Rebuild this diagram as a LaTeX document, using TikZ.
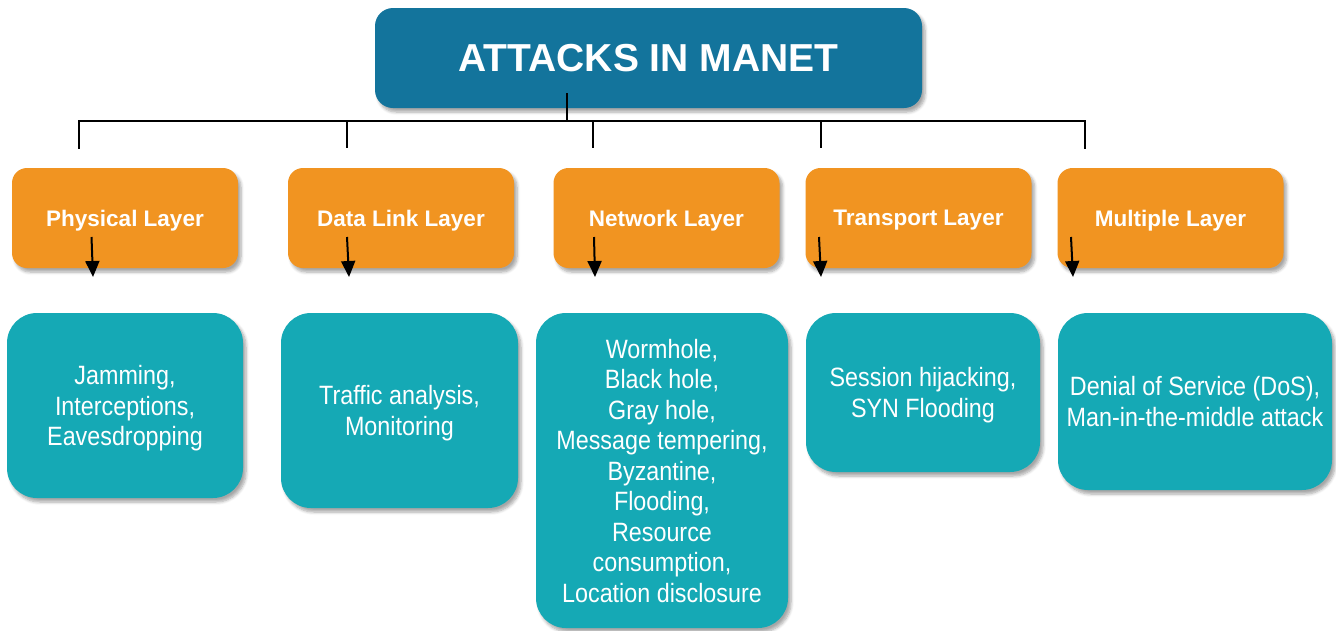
\documentclass[tikz,border=0pt]{standalone}
\usepackage{fontspec}
\setmainfont{Liberation Sans}
\newfontfamily\narrowfont{Liberation Sans}[FakeStretch=0.88]
\usetikzlibrary{arrows.meta,shadows.blur}
\definecolor{titleblue}{RGB}{19,116,156}
\definecolor{layerorange}{RGB}{241,148,33}
\definecolor{attackteal}{RGB}{21,169,181}
\tikzset{
  boxshadow/.style={blur shadow={shadow xshift=3pt,shadow yshift=-4pt,shadow blur steps=6,shadow opacity=35,shadow blur radius=3pt}},
  titlebox/.style={fill=titleblue,rounded corners=18pt,minimum width=547pt,minimum height=100pt,inner sep=0pt,text=white,font=\bfseries\fontsize{39}{44}\selectfont,boxshadow},
  layerbox/.style={fill=layerorange,rounded corners=15pt,minimum width=226pt,minimum height=100pt,inner sep=0pt,text depth=0pt,text=white,font=\bfseries\fontsize{22.5}{26}\selectfont,boxshadow},
  attackbox/.style={fill=attackteal,rounded corners=30pt,inner sep=0pt,text depth=0pt,text=white,align=center,font=\narrowfont\fontsize{26.5}{30.5}\selectfont,boxshadow},
  treeline/.style={line width=2pt,black},
  downarrow/.style={line width=2pt,black,-{Triangle[width=14pt,length=16pt]}}
}
\begin{document}
\begin{tikzpicture}[x=1pt,y=-1pt]
\useasboundingbox (0,0) rectangle (1336,630);
\node[titlebox] (title) at (648.5,58) {ATTACKS IN MANET};

\node[layerbox] (l1) at (125,218) {Physical Layer};
\node[layerbox] (l2) at (401,218) {Data Link Layer};
\node[layerbox] (l3) at (666.5,218) {Network Layer};
\node[layerbox] (l4) at (918.5,218) {Transport Layer};
\node[layerbox] (l5) at (1170.5,218) {Multiple Layer};

\node[attackbox,minimum width=236pt,minimum height=185pt] (t1) at (125,405.5) {Jamming,\\Interceptions,\\Eavesdropping};
\node[attackbox,minimum width=237pt,minimum height=195pt] (t2) at (399.5,410.5) {Traffic analysis,\\Monitoring};
\node[attackbox,minimum width=252pt,minimum height=315pt] (t3) at (662,470.5) {Wormhole,\\Black hole,\\Gray hole,\\Message tempering,\\Byzantine,\\Flooding,\\Resource\\consumption,\\Location disclosure};
\node[attackbox,minimum width=234pt,minimum height=159pt] (t4) at (923,392.5) {Session hijacking,\\SYN Flooding};
\node[attackbox,minimum width=274pt,minimum height=177pt] (t5) at (1195,401.5) {Denial of Service (DoS),\\Man-in-the-middle attack};

% tree connectors
\coordinate (stemtop) at (567,93);
\coordinate (stembot) at (567,121);
\coordinate (hl) at (79,121);
\coordinate (hr) at (1085,121);
\coordinate (d1) at (79,148);
\coordinate (d2) at (347,148);
\coordinate (d3) at (593,148);
\coordinate (d4) at (821,148);
\coordinate (d5) at (1085,148);
\coordinate (h2) at (347,121);
\coordinate (h3) at (593,121);
\coordinate (h4) at (821,121);
\draw[treeline] (stemtop) -- (stembot);
\draw[treeline,line cap=rect] (d1) -- (hl) -- (hr) -- (d5);
\draw[treeline] (h2) -- (d2);
\draw[treeline] (h3) -- (d3);
\draw[treeline] (h4) -- (d4);

% arrows
\coordinate (a1s) at (91.5,237); \coordinate (a1e) at (93,277);
\coordinate (a2s) at (347,237); \coordinate (a2e) at (349,277);
\coordinate (a3s) at (594,237); \coordinate (a3e) at (595,277);
\coordinate (a4s) at (819,237); \coordinate (a4e) at (821,277);
\coordinate (a5s) at (1071,237); \coordinate (a5e) at (1073,277);
\draw[downarrow] (a1s) -- (a1e);
\draw[downarrow] (a2s) -- (a2e);
\draw[downarrow] (a3s) -- (a3e);
\draw[downarrow] (a4s) -- (a4e);
\draw[downarrow] (a5s) -- (a5e);
\end{tikzpicture}
\end{document}
